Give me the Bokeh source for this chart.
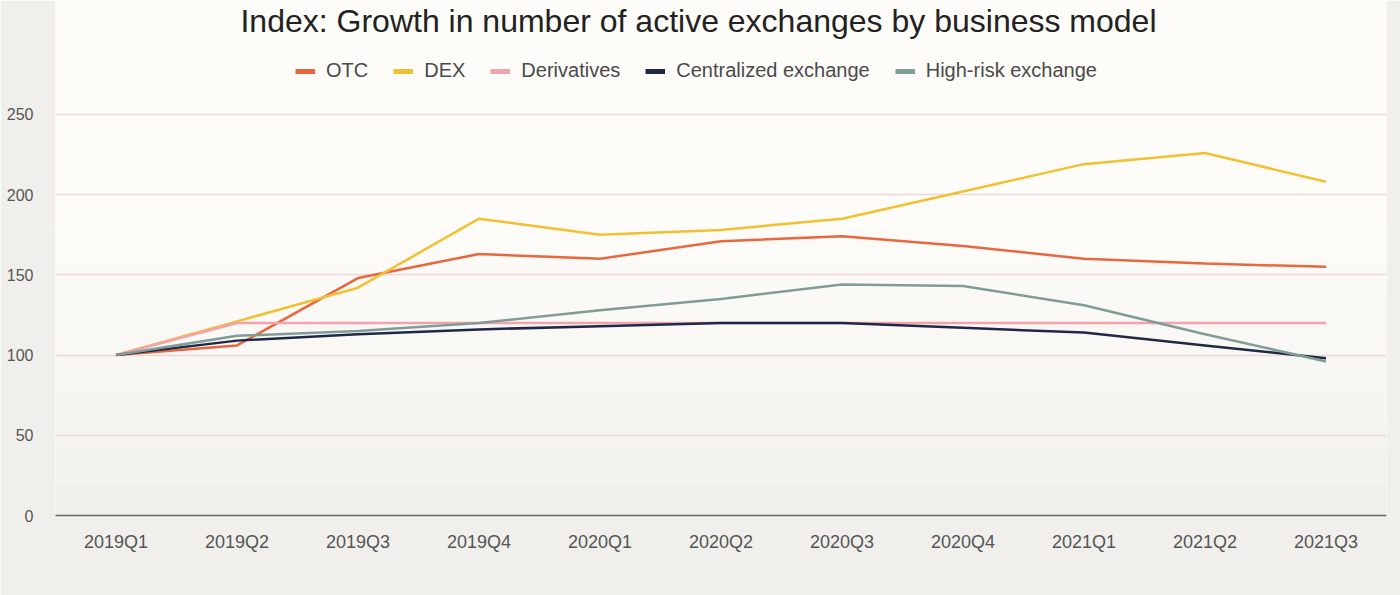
from bokeh.plotting import figure
from bokeh.models import Legend, LegendItem, FixedTicker, Range1d, Label, BoxAnnotation
from bokeh.embed import file_html
from bokeh.resources import INLINE

quarters = ["2019Q1", "2019Q2", "2019Q3", "2019Q4", "2020Q1", "2020Q2",
            "2020Q3", "2020Q4", "2021Q1", "2021Q2", "2021Q3"]
otc = [100, 106, 148, 163, 160, 171, 174, 168, 160, 157, 155]
dex = [100, 121, 142, 185, 175, 178, 185, 202, 219, 226, 208]
derivatives = [100, 120, 120, 120, 120, 120, 120, 120, 120, 120, 120]
centralized = [100, 109, 113, 116, 118, 120, 120, 117, 114, 106, 98]
high_risk = [100, 112, 115, 120, 128, 135, 144, 143, 131, 113, 96]
y_ticks = [0, 50, 100, 150, 200, 250]

series = [
    ("OTC", otc, "#e8673f"),
    ("DEX", dex, "#f2c131"),
    ("Derivatives", derivatives, "#f2a3ab"),
    ("Centralized exchange", centralized, "#1f2847"),
    ("High-risk exchange", high_risk, "#809c97"),
]

# frame spans from the top of the page down to the zero line (515 px);
# the upper part of the frame holds the title and legend
p = figure(width=1400, height=595, x_range=quarters, y_range=Range1d(0, 321),
           output_backend="svg", toolbar_location=None,
           min_border_left=55, min_border_right=14, min_border_top=0,
           min_border_bottom=80)
p.background_fill_color = "#fdfcf8"
p.border_fill_color = "#f0efeb"
p.outline_line_color = None

# soft vertical shading like the photographed slide
band_edges = [321, 180, 160, 140, 120, 100, 80, 60, 40, 20, 0]
band_colors = ["#fdfcf8", "#fcfbf7", "#fbfaf6", "#faf9f5", "#f9f8f4",
               "#f8f7f3", "#f6f5f1", "#f4f3ef", "#f2f1ed", "#f0efeb"]
for i, c in enumerate(band_colors):
    p.add_layout(BoxAnnotation(bottom=band_edges[i + 1], top=band_edges[i],
                               fill_color=c, fill_alpha=1, line_color=None,
                               level="image"))

p.xgrid.grid_line_color = None
p.ygrid.grid_line_color = "#f0d6d6"
p.ygrid.grid_line_width = 1.5
p.yaxis.ticker = FixedTicker(ticks=y_ticks)
p.yaxis.axis_line_color = None
p.yaxis.major_tick_line_color = None
p.yaxis.minor_tick_line_color = None
p.yaxis.major_label_text_font = "Liberation Sans"
p.yaxis.major_label_text_font_size = "16px"
p.yaxis.major_label_text_color = "#555555"
p.yaxis.major_label_standoff = 16

p.xaxis.axis_line_color = "#666666"
p.xaxis.axis_line_width = 1.5
p.xaxis.major_tick_line_color = None
p.xaxis.minor_tick_line_color = None
p.xaxis.major_label_text_font = "Liberation Sans"
p.xaxis.major_label_text_font_size = "18px"
p.xaxis.major_label_text_color = "#555555"
p.xaxis.major_label_standoff = 10
p.x_range.range_padding = 0

items = []
for name, vals, color in series:
    p.line(quarters, vals, line_color=color, line_width=2.5)
    # thick swatch for the legend: a one-point line draws nothing on the chart
    swatch = p.line(quarters[:1], vals[:1], line_color=color, line_width=5)
    items.append(LegendItem(label=name, renderers=[swatch]))

legend = Legend(items=items, orientation="horizontal", location=(240, 433),
                label_text_font="Liberation Sans", label_text_font_size="20px",
                label_text_color="#4a4a4a", glyph_width=20, glyph_height=16,
                spacing=25, label_standoff=11, background_fill_alpha=0,
                border_line_color=None, padding=6, margin=0)
p.add_layout(legend, "center")

title = Label(x=643, y=495, x_units="screen", y_units="screen",
              text="Index: Growth in number of active exchanges by business model",
              text_font="Liberation Sans", text_font_size="32px",
              text_color="#222222", text_align="center", text_baseline="middle")
p.add_layout(title)

open("out.html", "w").write(file_html(p, INLINE))
